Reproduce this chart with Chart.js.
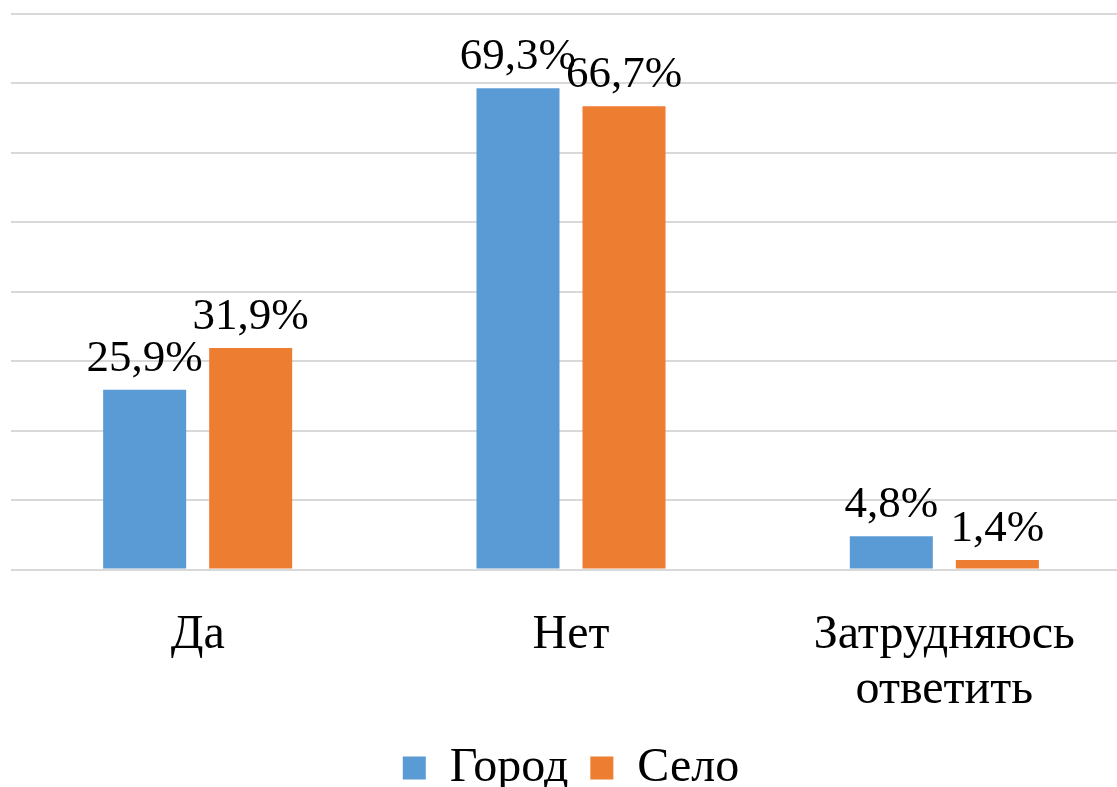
<!doctype html>
<html lang="ru">
<head>
    <meta charset="utf-8">
    <title>Город / Село</title>
    <style>
        html, body { margin: 0; padding: 0; background: #fff; overflow: hidden; }
        #wrap { width: 1131px; height: 787px; }
    </style>
</head>
<body>
<div id="wrap"><canvas id="myChart"></canvas></div>

<script src="https://cdn.jsdelivr.net/npm/chart.js"></script>
<script>
    const categories = ['Да', 'Нет', ['Затрудняюсь', 'ответить']];
    const cityValues = [25.9, 69.3, 4.8];
    const villageValues = [31.9, 66.7, 1.4];
    const seriesNames = ['Город', 'Село'];

    const fontFamily = '"Liberation Serif", "Times New Roman", serif';

    // labels above bars, Excel style "25,9%"
    const valueLabels = {
        id: 'valueLabels',
        afterDatasetsDraw(chart) {
            const ctx = chart.ctx;
            ctx.save();
            ctx.font = '45px ' + fontFamily;
            ctx.fillStyle = '#000';
            ctx.textAlign = 'center';
            ctx.textBaseline = 'alphabetic';
            chart.data.datasets.forEach((ds, i) => {
                chart.getDatasetMeta(i).data.forEach((bar, j) => {
                    const txt = ds.data[j].toFixed(1).replace('.', ',') + '%';
                    ctx.fillText(txt, bar.x, bar.y - 19);
                });
            });
            ctx.restore();
        }
    };

    // pull the legend a bit closer to the axis labels
    const legendShift = {
        id: 'legendShift',
        afterLayout(chart) {
            if (chart.legend) {
                chart.legend.top -= 26;
                chart.legend.bottom -= 26;
            }
        }
    };

    new Chart(document.getElementById('myChart'), {
        type: 'bar',
        data: {
            labels: categories,
            datasets: [
                {label: seriesNames[0], data: cityValues, backgroundColor: '#5b9bd5'},
                {label: seriesNames[1], data: villageValues, backgroundColor: '#ed7d31'}
            ]
        },
        options: {
            responsive: true,
            maintainAspectRatio: false,
            animation: false,
            datasets: {
                bar: {categoryPercentage: 0.568, barPercentage: 0.783}
            },
            layout: {padding: {top: 14, left: 11, right: 0, bottom: -41}},
            plugins: {
                tooltip: {enabled: false},
                legend: {
                    position: 'bottom',
                    labels: {
                        font: {family: fontFamily, size: 48},
                        color: '#000',
                        boxWidth: 23,
                        boxHeight: 23,
                        padding: 22
                    }
                }
            },
            scales: {
                x: {
                    grid: {display: false},
                    border: {display: false},
                    ticks: {
                        color: '#000',
                        font: {family: fontFamily, size: 48, lineHeight: 1.15},
                        padding: 30,
                        maxRotation: 0
                    }
                },
                y: {
                    min: 0,
                    max: 80,
                    ticks: {display: false, stepSize: 10},
                    border: {display: false},
                    grid: {color: '#d9d9d9', lineWidth: 2, drawTicks: false}
                }
            }
        },
        plugins: [valueLabels, legendShift]
    });
</script>
</body>
</html>
